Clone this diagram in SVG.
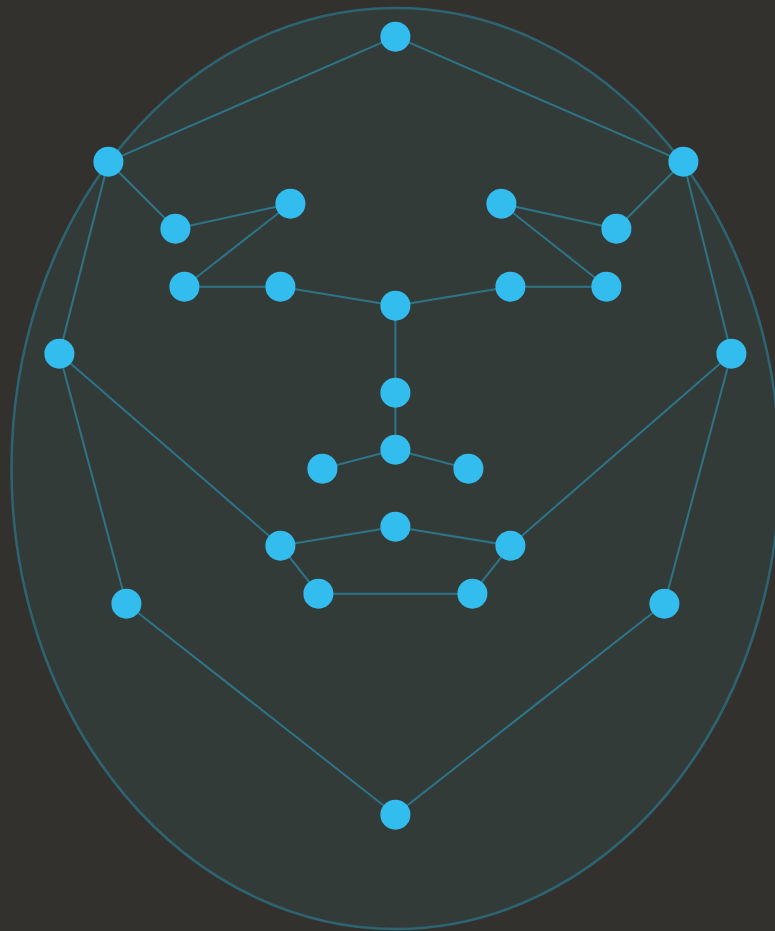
<svg xmlns="http://www.w3.org/2000/svg" width="775" height="931" viewBox="0 0 775 931">
<style>
.n{fill:#33bdef}
.e line{stroke:#2e7487;stroke-width:2}
</style>
<rect width="775" height="931" fill="#33312e"/>
<ellipse id="face" cx="395.5" cy="468.5" rx="384" ry="460.5" fill="#333b39" stroke="#2d6472" stroke-width="2.5"/>
<g transform="translate(0.4,0.7)">
<g class="e" id="connectors">
<line x1="395" y1="36" x2="108" y2="161"/>
<line x1="395" y1="36" x2="683" y2="161"/>
<line x1="108" y1="161" x2="175" y2="228"/>
<line x1="175" y1="228" x2="290" y2="203"/>
<line x1="290" y1="203" x2="184" y2="286"/>
<line x1="184" y1="286" x2="280" y2="286"/>
<line x1="280" y1="286" x2="395" y2="305"/>
<line x1="395" y1="305" x2="510" y2="286"/>
<line x1="510" y1="286" x2="606" y2="286"/>
<line x1="606" y1="286" x2="501" y2="203"/>
<line x1="501" y1="203" x2="616" y2="228"/>
<line x1="616" y1="228" x2="683" y2="161"/>
<line x1="108" y1="161" x2="59" y2="353"/>
<line x1="59" y1="353" x2="126" y2="603"/>
<line x1="126" y1="603" x2="395" y2="814"/>
<line x1="395" y1="814" x2="664" y2="603"/>
<line x1="664" y1="603" x2="731" y2="353"/>
<line x1="731" y1="353" x2="683" y2="161"/>
<line x1="59" y1="353" x2="280" y2="545"/>
<line x1="731" y1="353" x2="510" y2="545"/>
<line x1="395" y1="305" x2="395" y2="392"/>
<line x1="395" y1="392" x2="395" y2="449"/>
<line x1="395" y1="449" x2="322" y2="468"/>
<line x1="395" y1="449" x2="468" y2="468"/>
<line x1="280" y1="545" x2="395" y2="526"/>
<line x1="395" y1="526" x2="510" y2="545"/>
<line x1="280" y1="545" x2="318" y2="593"/>
<line x1="318" y1="593" x2="472" y2="593"/>
<line x1="472" y1="593" x2="510" y2="545"/>
</g>
<g id="n1"><circle class="n" cx="395" cy="36" r="15"/></g>
<g id="n2"><circle class="n" cx="108" cy="161" r="15"/></g>
<g id="n3"><circle class="n" cx="683" cy="161" r="15"/></g>
<g id="n4"><circle class="n" cx="175" cy="228" r="15"/></g>
<g id="n5"><circle class="n" cx="290" cy="203" r="15"/></g>
<g id="n6"><circle class="n" cx="501" cy="203" r="15"/></g>
<g id="n7"><circle class="n" cx="616" cy="228" r="15"/></g>
<g id="n8"><circle class="n" cx="184" cy="286" r="15"/></g>
<g id="n9"><circle class="n" cx="280" cy="286" r="15"/></g>
<g id="n10"><circle class="n" cx="395" cy="305" r="15"/></g>
<g id="n11"><circle class="n" cx="510" cy="286" r="15"/></g>
<g id="n12"><circle class="n" cx="606" cy="286" r="15"/></g>
<g id="n13"><circle class="n" cx="59" cy="353" r="15"/></g>
<g id="n14"><circle class="n" cx="731" cy="353" r="15"/></g>
<g id="n15"><circle class="n" cx="395" cy="392" r="15"/></g>
<g id="n16"><circle class="n" cx="395" cy="449" r="15"/></g>
<g id="n17"><circle class="n" cx="322" cy="468" r="15"/></g>
<g id="n18"><circle class="n" cx="468" cy="468" r="15"/></g>
<g id="n19"><circle class="n" cx="280" cy="545" r="15"/></g>
<g id="n20"><circle class="n" cx="395" cy="526" r="15"/></g>
<g id="n21"><circle class="n" cx="510" cy="545" r="15"/></g>
<g id="n22"><circle class="n" cx="318" cy="593" r="15"/></g>
<g id="n23"><circle class="n" cx="472" cy="593" r="15"/></g>
<g id="n24"><circle class="n" cx="126" cy="603" r="15"/></g>
<g id="n25"><circle class="n" cx="664" cy="603" r="15"/></g>
<g id="n26"><circle class="n" cx="395" cy="814" r="15"/></g>
</g>
</svg>
